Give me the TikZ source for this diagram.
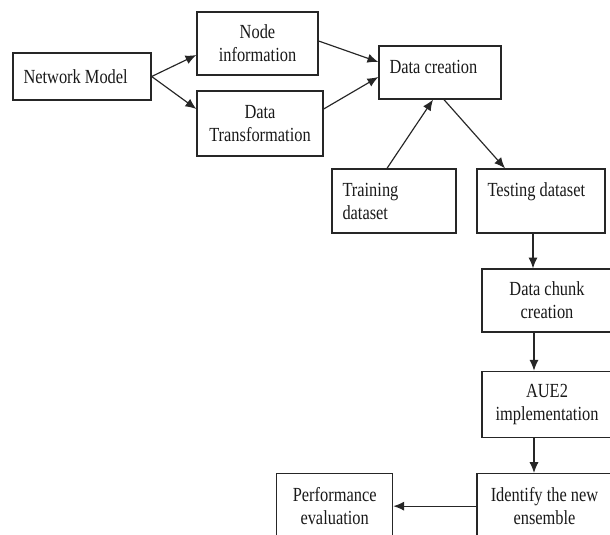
\documentclass[tikz,border=0pt]{standalone}
\usepackage{fontspec}
\setmainfont{Liberation Serif}[FakeStretch=0.82]
\usepackage{tikz}
\usetikzlibrary{arrows,arrows.meta,positioning}
\tikzset{procbox/.style={
    % The shape:
    rectangle,
    inner sep=0pt,
    % The border:
    line width=0.8pt,
    draw=black!85,
    % Font
    font=\fontsize{12}{13.8}\selectfont,
    text=black!90,
    align=center,
    },
    leftbox/.style={
    procbox,
    align=flush left,
    inner xsep=6.3pt,
    },
    flow/.style={
    -{Latex[length=6.5pt,width=5.5pt]},
    line width=0.7pt,
    draw=black!85,
    },
}

\begin{document}
\begin{tikzpicture}[x=0.6pt,y=-0.6pt]
    \useasboundingbox (0,0) rectangle (610,534);
    \clip (0,0) rectangle (610,534);
    \node (netmodel)   [leftbox,text width=70.2pt,minimum height=28.2pt] at (82,76.5)   {Network Model};
    \node (nodeinfo)   [procbox,minimum width=72.6pt,minimum height=37.8pt] at (257.5,43.5) {Node\\information};
    \node (datatrans)  [procbox,minimum width=75.6pt,minimum height=39pt]   at (260,123.5)  {Data\\Transformation};
    \node (datacreate) [leftbox,text width=60.6pt,minimum height=31.8pt,text depth=6.6pt] at (440,72.5) {Data creation};
    \node (training)   [leftbox,text width=61.8pt,minimum height=38.4pt] at (394,201) {Training\\dataset};
    \node (testing)    [leftbox,text width=64.2pt,minimum height=38.4pt] at (541,201) {Testing dataset\\ \mbox{}};
    \node (chunk)      [procbox,minimum width=78pt,minimum height=37.8pt] at (547,300.5) {Data chunk\\creation};
    \node (aue)        [procbox,minimum width=78pt,minimum height=39.6pt,below=22.8pt of chunk] {AUE2\\implementation};
    \node (identify)   [procbox,minimum width=81pt,minimum height=39pt,below=21pt of aue,xshift=-1.5pt] {Identify the new\\ensemble};
    \node (perf)       [procbox,minimum width=69.6pt,minimum height=39pt,left=49.8pt of identify] {Performance\\evaluation};

    \draw[flow] (netmodel.east) -- ([yshift=-6.9pt]nodeinfo.west);
    \draw[flow] (netmodel.east) -- ([yshift=8.7pt]datatrans.west);
    \draw[flow] ([yshift=1.5pt]nodeinfo.east) -- ([yshift=6.3pt]datacreate.west);
    \draw[flow] ([yshift=8.7pt]datatrans.east) -- ([yshift=-2.7pt]datacreate.west);
    \draw[flow] ([xshift=-4.2pt]training.north) -- ([xshift=-4.2pt]datacreate.south);
    \draw[flow] ([xshift=2.4pt]datacreate.south) -- ([xshift=-21.6pt]testing.north);
    \draw[flow] ([xshift=-4.8pt]testing.south) coordinate (t1) -- (t1 |- chunk.north);
    \draw[flow] ([xshift=-7.8pt]chunk.south) coordinate (c1) -- (c1 |- aue.north);
    \draw[flow] ([xshift=-7.8pt]aue.south) coordinate (a1) -- (a1 |- identify.north);
    \draw[flow] (identify.west) -- (perf.east);
\end{tikzpicture}
\end{document}
